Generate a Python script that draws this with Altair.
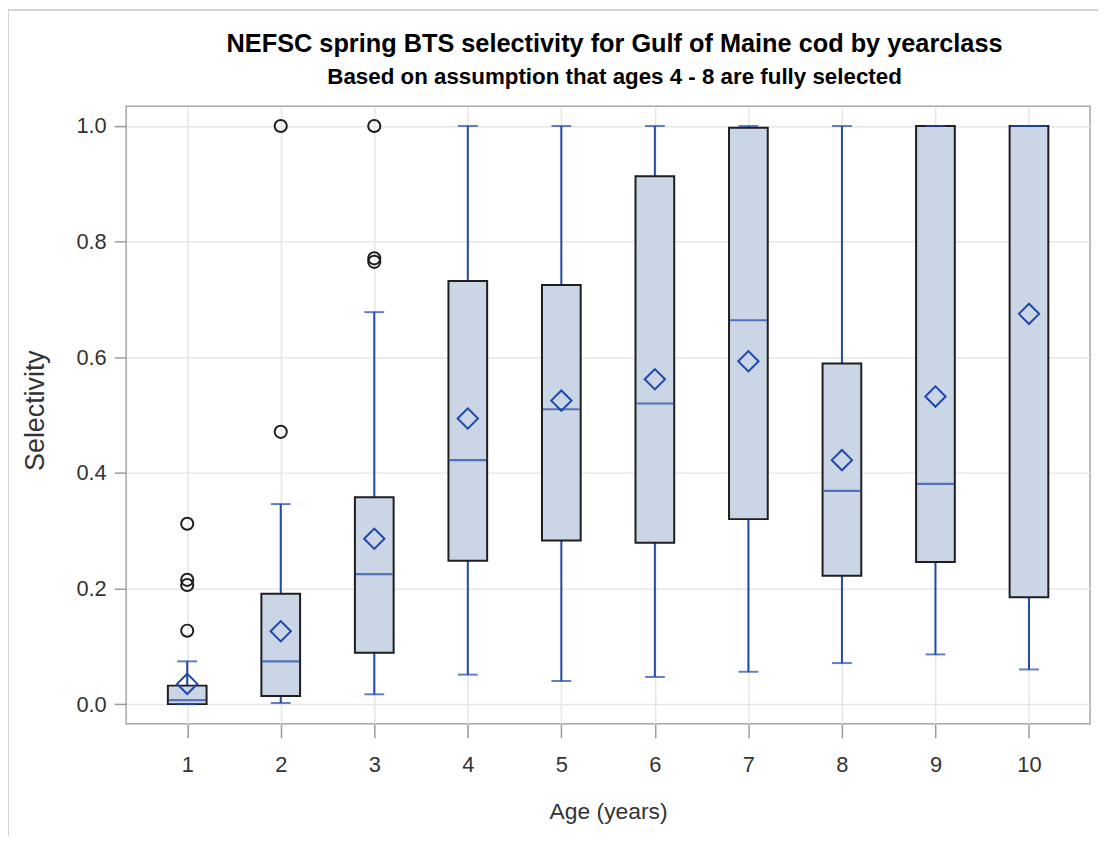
import altair as alt
import pandas as pd

# ---- data ----
ages = [1, 2, 3, 4, 5, 6, 7, 8, 9, 10]
q1 = [0.000, 0.014, 0.089, 0.248, 0.283, 0.279, 0.320, 0.222, 0.246, 0.185]
q3 = [0.032, 0.191, 0.358, 0.732, 0.725, 0.913, 0.997, 0.589, 1.000, 1.000]
medians = [0.007, 0.074, 0.225, 0.422, 0.510, 0.520, 0.664, 0.369, 0.381, 1.000]
means = [0.035, 0.126, 0.286, 0.494, 0.525, 0.562, 0.593, 0.422, 0.532, 0.675]
whisker_lo = [0.000, 0.002, 0.017, 0.051, 0.040, 0.047, 0.056, 0.071, 0.086, 0.060]
whisker_hi = [0.074, 0.346, 0.678, 1.000, 1.000, 1.000, 1.000, 1.000, 1.000, 1.000]

outlier_age = [1, 1, 1, 1, 2, 2, 3, 3, 3]
outlier_val = [0.127, 0.206, 0.215, 0.312, 0.471, 1.000, 0.765, 0.771, 1.000]

title_text = "NEFSC spring BTS selectivity for Gulf of Maine cod by yearclass"
subtitle_text = "Based on assumption that ages 4 - 8 are fully selected"
x_title = "Age (years)"
y_title = "Selectivity"
x_ticks = ages
y_ticks = [0.0, 0.2, 0.4, 0.6, 0.8, 1.0]

box_df = pd.DataFrame({
    "age": ages, "q1": q1, "q3": q3, "median": medians, "mean": means,
    "lo": whisker_lo, "hi": whisker_hi,
})
out_df = pd.DataFrame({"age": outlier_age, "value": outlier_val})
title_df = pd.DataFrame({"t": [title_text], "s": [subtitle_text]})

FONT = "Liberation Sans"
BLUE = "#1f48a8"
FILL = "#cad5e6"
EDGE = "#1e1e1e"

xscale = alt.Scale(domain=[0.4, 10.6], nice=False, zero=False)
yscale = alt.Scale(domain=[-0.034, 1.034], nice=False, zero=False)

x_enc = alt.X("age:Q", scale=xscale,
              axis=alt.Axis(values=x_ticks, title=x_title, format="d",
                            grid=True, domain=False, tickSize=14,
                            labelPadding=17, titlePadding=25))
y_enc = alt.Y("q1:Q", scale=yscale,
              axis=alt.Axis(values=y_ticks, title=y_title, format=".1f",
                            grid=True, domain=False, tickSize=12,
                            labelPadding=8, titlePadding=27,
                            titleFontSize=27, titleY=306))

base = alt.Chart(box_df)

whisk_low = base.mark_rule(color=BLUE, strokeWidth=2).encode(
    x=x_enc, y=alt.Y("lo:Q", scale=yscale), y2="q1:Q")
whisk_high = base.mark_rule(color=BLUE, strokeWidth=2).encode(
    x="age:Q", y=alt.Y("q3:Q", scale=yscale), y2="hi:Q")
cap_low = base.mark_tick(color=BLUE, orient="horizontal", size=20, thickness=2).encode(
    x="age:Q", y=alt.Y("lo:Q", scale=yscale))
cap_high = base.mark_tick(color=BLUE, orient="horizontal", size=20, thickness=2).encode(
    x="age:Q", y=alt.Y("hi:Q", scale=yscale))
boxes = base.mark_bar(size=39, fill=FILL, stroke=EDGE, strokeWidth=2).encode(
    x=x_enc, y=y_enc, y2="q3:Q")
med = base.mark_tick(color=BLUE, orient="horizontal", size=37, thickness=2.2).encode(
    x="age:Q", y=alt.Y("median:Q", scale=yscale))
mean_pts = base.mark_point(shape="diamond", size=420, color=BLUE, filled=False,
                           strokeWidth=2, opacity=1).encode(
    x="age:Q", y=alt.Y("mean:Q", scale=yscale))
outl = alt.Chart(out_df).mark_point(shape="circle", size=150, color=EDGE, filled=False,
                                    strokeWidth=2, opacity=1).encode(
    x=alt.X("age:Q", scale=xscale), y=alt.Y("value:Q", scale=yscale))

border = alt.Chart(title_df).mark_rule(color="#d4d4d4", strokeWidth=2).encode(
    x=alt.value(-119), x2=alt.value(-119), y=alt.value(-97), y2=alt.value(740))
border_top = alt.Chart(title_df).mark_rule(color="#d4d4d4", strokeWidth=2).encode(
    x=alt.value(-119), x2=alt.value(990), y=alt.value(-97), y2=alt.value(-97))

title_mark = alt.Chart(title_df).mark_text(
    font=FONT, fontSize=25.5, fontWeight="bold", color="#000000",
    align="center", baseline="alphabetic").encode(
    text="t:N", x=alt.value(492), y=alt.value(-55))
subtitle_mark = alt.Chart(title_df).mark_text(
    font=FONT, fontSize=22.5, fontWeight="bold", color="#000000",
    align="center", baseline="alphabetic").encode(
    text="s:N", x=alt.value(492), y=alt.value(-22))

chart = alt.layer(
    border, border_top, whisk_low, whisk_high, boxes, cap_low, cap_high, med,
    mean_pts, outl, title_mark, subtitle_mark
).properties(
    width=971, height=622,
    autosize=alt.AutoSizeParams(type="none"),
    padding={"left": 119, "top": 96, "right": 8, "bottom": 110},
).configure_view(
    stroke="#a6a6a6", strokeWidth=1.5
).configure_axis(
    labelFont=FONT, titleFont=FONT, labelFontSize=22, titleFontSize=23,
    labelColor="#333333", titleColor="#333333", titleFontWeight="normal",
    gridColor="#e6e6e6", gridWidth=1.5, tickColor="#9a9a9a", tickWidth=1.5,
)

chart.save("out.html", embed_options={"renderer": "svg", "actions": False})
